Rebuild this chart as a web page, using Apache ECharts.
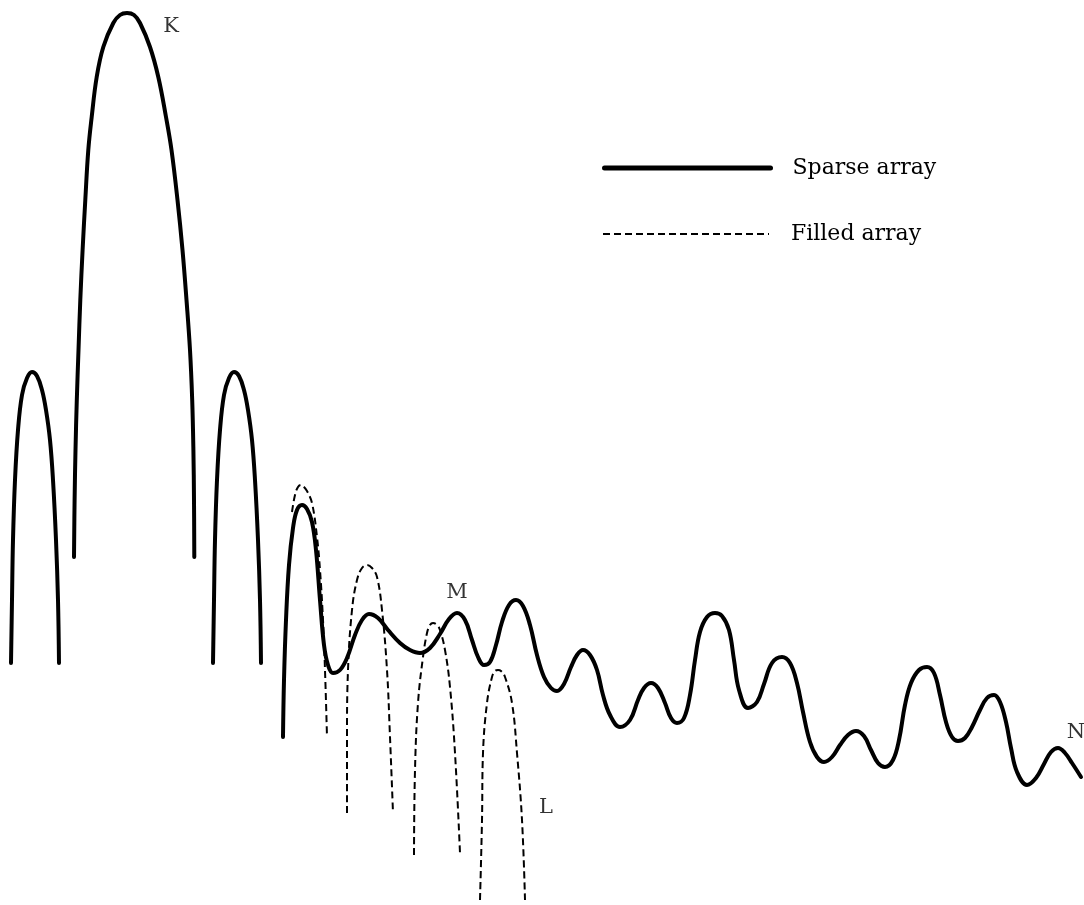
<!DOCTYPE html>
<html>
<head>
<meta charset="utf-8">
<script src="https://cdn.jsdelivr.net/npm/echarts@6/dist/echarts.min.js"></script>
<style>html,body{margin:0;padding:0;background:#fff;}#c{width:1084px;height:905px;}</style>
</head>
<body>
<div id="c"></div>
<script>
// Sparse array (solid) lobes: [angle position, level drop]
const sparseSide1 = [[11,663],[12,600],[13,540],[15,480],[18,430],[22,395],[27,378],[32,372],[37,376],[42,390],[46,410],[50,440],[53,480],[56,540],[58,600],[59,663]];
const sparseMain = [[74,557],[74.6,500],[75.5,450],[76.8,400],[78.5,350],[80.3,300],[82.6,250],[85.3,200],[88.3,150],[91.7,117],[96.7,77],[103.3,47],[113.3,23],[120,15],[127,13],[134,15],[140,23],[150,47],[158.3,77],[166,117],[171.5,150],[177.5,200],[182.5,250],[186.5,300],[190,350],[192.2,400],[193.4,450],[194,500],[194.3,557]];
const sparseSide2 = [[213,663],[214,600],[215,540],[217,480],[220,430],[224,395],[229,378],[234,372],[239,376],[244,390],[248,410],[252,440],[255,480],[258,540],[260,600],[261,663]];
const sparseTail = [[283,737],[284,680],[286,620],[289,565],[293,528],[297,510],[302,505],[307,509],[312,522],[316,550],[320,600],[324,645],[328,665],[333,673],[340,670],[347,658],[355,635],[362,620],[369,614],[378,618],[388,630],[400,643],[410,650],[420,653],[430,648],[440,634],[449,619],[457,613],[465,620],[472,640],[478,657],[484,665],[490,662],[496,645],[502,622],[509,605],[516,600],[523,606],[530,625],[537,655],[544,677],[551,688],[557,691],[564,684],[571,667],[577,655],[583,650],[590,655],[597,670],[603,695],[610,715],[620,727],[630,720],[638,700],[644,688],[651,683],[658,688],[665,703],[671,718],[677,723],[684,718],[690,695],[695,660],[700,632],[707,617],[715,613],[722,616],[729,630],[734,660],[739,690],[748,708],[757,702],[764,684],[772,663],[782,657],[790,663],[797,683],[803,712],[810,742],[817,757],[824,762],[832,757],[840,745],[848,735],[856,731],[864,736],[871,750],[878,763],[885,767],[893,760],[899,740],[905,705],[911,683],[919,670],[927,667],[934,673],[940,695],[946,722],[952,737],[958,741],[965,738],[972,727],[980,710],[987,698],[994,695],[1000,702],[1006,722],[1011,748],[1017,772],[1027,785],[1036,778],[1044,764],[1051,752],[1058,748],[1065,753],[1072,763],[1081,777]];

// Filled array (dashed) lobes
const filledLobe1 = [[292,512],[295,495],[298,487],[301,485],[304,487],[307,491],[312,503],[317,537],[320,570],[323,620],[325,670],[327,737]];
const filledLobe2 = [[347,813],[347,737],[348,670],[352,610],[357,580],[362,568],[367,565],[372,568],[377,577],[382,610],[387,670],[390,737],[393,813]];
const filledLobe3 = [[414,855],[415,770],[418,703],[423,657],[427,633],[430,625],[433,623],[437,625],[440,630],[445,650],[450,687],[455,753],[460,853]];
const filledLobe4 = [[480,900],[482,820],[483,753],[487,703],[492,677],[495,671],[498,670],[501,671],[505,677],[512,703],[517,753],[522,820],[525,900]];

// Curve labels
const curveLabels = [[171,27,'K'],[457,593,'M'],[546,808,'L'],[1076,733,'N']];

const seriesNames = ['Sparse array','Filled array'];

function joinSegments(segs){
  const out = [];
  segs.forEach((s,i)=>{ if(i>0) out.push([null,null]); s.forEach(p=>out.push(p)); });
  return out;
}

const FONT = 'DejaVu Serif';
const legendText = {fontFamily:FONT,fontSize:22,color:'#000',padding:[0,0,0,17]};
const chart = echarts.init(document.getElementById('c'));
chart.setOption({
  animation:false,
  backgroundColor:'#fff',
  grid:{left:0,right:0,top:0,bottom:0},
  xAxis:{type:'value',min:0,max:1084,show:false},
  yAxis:{type:'value',min:0,max:905,inverse:true,show:false},
  legend:[
    {data:[seriesNames[0]],orient:'vertical',left:597,top:152,itemWidth:166,itemHeight:24,
     itemStyle:{opacity:0},lineStyle:{width:5,color:'#000'},textStyle:legendText},
    {data:[seriesNames[1]],orient:'vertical',left:597,top:218,itemWidth:166,itemHeight:24,
     itemStyle:{opacity:0},lineStyle:{width:2,color:'#000',type:[7,4]},textStyle:legendText}
  ],
  series:[
    {name:seriesNames[0],type:'line',symbol:'none',smooth:0.4,connectNulls:false,
     lineStyle:{color:'#000',width:4,cap:'round'},itemStyle:{color:'#000'},
     data:joinSegments([sparseSide1,sparseMain,sparseSide2,sparseTail])},
    {name:seriesNames[1],type:'line',symbol:'none',smooth:0.4,connectNulls:false,
     lineStyle:{color:'#000',width:2,type:[7,4]},itemStyle:{color:'#000'},
     data:joinSegments([filledLobe1,filledLobe2,filledLobe3,filledLobe4])},
    {type:'scatter',symbolSize:0,silent:true,
     label:{show:true,position:'inside',formatter:p=>p.value[2],fontFamily:FONT,fontSize:21,color:'#000',textBorderWidth:0},
     data:curveLabels}
  ]
});
</script>
</body>
</html>
